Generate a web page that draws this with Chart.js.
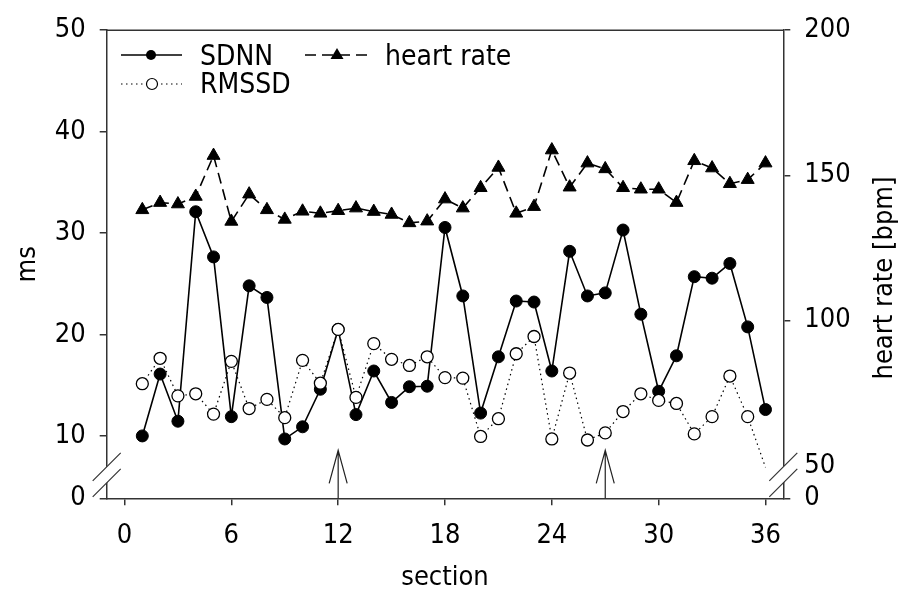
<!DOCTYPE html>
<html>
<head>
<meta charset="utf-8">
<script src="https://cdn.jsdelivr.net/npm/chart.js@4.4.1/dist/chart.umd.min.js"></script>
<style>
  html, body { margin: 0; padding: 0; background: #fff; }
</style>
</head>
<body>
<canvas id="chart" width="899" height="604"></canvas>
<script>
// values
const sections = [1, 2, 3, 4, 5, 6, 7, 8, 9, 10, 11, 12, 13, 14, 15, 16, 17, 18,
                  19, 20, 21, 22, 23, 24, 25, 26, 27, 28, 29, 30, 31, 32, 33, 34, 35, 36];
const sdnn = [10.0, 16.1, 11.45, 32.1, 27.65, 11.9, 24.8, 23.65, 9.7, 10.9, 14.6, 20.5,
              12.1, 16.4, 13.3, 14.85, 14.9, 30.55, 23.8, 12.25, 17.8, 23.3, 23.2, 16.4,
              28.2, 23.8, 24.1, 30.3, 22.0, 14.4, 17.9, 25.7, 25.55, 27.0, 20.75, 12.6];
const rmssd = [15.15, 17.65, 13.95, 14.15, 12.15, 17.35, 12.7, 13.6, 11.8, 17.45, 15.2, 20.5,
               13.8, 19.1, 17.55, 16.95, 17.8, 15.75, 15.7, 9.95, 11.7, 18.1, 19.8, 9.7,
               16.2, 9.6, 10.3, 12.4, 14.15, 13.5, 13.2, 10.2, 11.9, 15.9, 11.9, 6.9];
const heartRate = [138.1, 140.6, 140.1, 142.7, 156.8, 134.1, 143.5, 138.1, 134.8, 137.6, 136.9, 137.8,
                   138.7, 137.5, 136.5, 133.6, 134.2, 141.8, 138.7, 145.7, 152.7, 136.9, 139.2, 158.7,
                   145.9, 154.2, 152.2, 145.7, 145.2, 145.2, 140.6, 155.0, 152.5, 147.1, 148.5, 154.2];

const xTicks = [0, 6, 12, 18, 24, 30, 36];
const msTicks = [10, 20, 30, 40, 50];
const bpmTicks = [50, 100, 150, 200];
const arrowSections = [12, 27];

// broken axes: the bottom of each axis is labelled "0"
const msBreak = 3.85;
const bpmBreak = 38.7;

const FONT = "'DejaVu Sans Condensed', 'DejaVu Sans', sans-serif";
const font = { family: FONT, size: 27 };
const AXIS = '#333';

const toPoints = vals => vals.map((v, i) => ({ x: sections[i], y: v }));

const extras = {
  id: 'extras',
  afterDraw(chart) {
    const ctx = chart.ctx;
    const { left, right, top, bottom } = chart.chartArea;
    const xs = chart.scales.x;
    ctx.save();

    // top frame line
    ctx.strokeStyle = AXIS;
    ctx.lineWidth = 1.5;
    ctx.beginPath();
    ctx.moveTo(left, top);
    ctx.lineTo(right, top);
    ctx.stroke();

    // axis breaks
    [left, right].forEach(ax => {
      const y1 = bottom - 15.5, y2 = bottom - 31.5, h = 14;
      ctx.fillStyle = '#fff';
      ctx.beginPath();
      ctx.moveTo(ax - h, y1 + h);
      ctx.lineTo(ax + h, y1 - h);
      ctx.lineTo(ax + h, y2 - h);
      ctx.lineTo(ax - h, y2 + h);
      ctx.closePath();
      ctx.fill();
      ctx.strokeStyle = AXIS;
      ctx.lineWidth = 1.2;
      ctx.beginPath();
      ctx.moveTo(ax - h, y1 + h); ctx.lineTo(ax + h, y1 - h);
      ctx.moveTo(ax - h, y2 + h); ctx.lineTo(ax + h, y2 - h);
      ctx.stroke();
    });

    // arrows
    ctx.strokeStyle = '#222';
    ctx.lineWidth = 1.2;
    arrowSections.forEach(s => {
      const px = xs.getPixelForValue(s);
      const tip = bottom - 48;
      ctx.beginPath();
      ctx.moveTo(px, bottom); ctx.lineTo(px, tip);
      ctx.moveTo(px - 9, tip + 33); ctx.lineTo(px, tip); ctx.lineTo(px + 9, tip + 33);
      ctx.stroke();
    });

    // legend
    ctx.fillStyle = '#000';
    ctx.font = `28px ${FONT}`;
    ctx.textAlign = 'left';
    ctx.textBaseline = 'alphabetic';

    ctx.strokeStyle = '#000';
    ctx.lineWidth = 1.5;
    ctx.setLineDash([]);
    ctx.beginPath(); ctx.moveTo(121, 55); ctx.lineTo(182, 55); ctx.stroke();
    ctx.beginPath(); ctx.arc(151, 55, 5, 0, Math.PI * 2); ctx.fill();
    ctx.fillText('SDNN', 200, 65);

    ctx.lineWidth = 1.2;
    ctx.setLineDash([1.5, 3.5]);
    ctx.beginPath(); ctx.moveTo(121, 84); ctx.lineTo(182, 84); ctx.stroke();
    ctx.setLineDash([]);
    ctx.fillStyle = '#fff';
    ctx.beginPath(); ctx.arc(152, 84, 5.5, 0, Math.PI * 2); ctx.fill(); ctx.stroke();
    ctx.fillStyle = '#000';
    ctx.fillText('RMSSD', 200, 93);

    ctx.lineWidth = 1.5;
    ctx.setLineDash([11, 6]);
    ctx.beginPath(); ctx.moveTo(305, 55); ctx.lineTo(370, 55); ctx.stroke();
    ctx.setLineDash([]);
    ctx.beginPath();
    ctx.moveTo(337, 48); ctx.lineTo(343.5, 59); ctx.lineTo(330.5, 59); ctx.closePath();
    ctx.fill();
    ctx.fillText('heart rate', 385, 65);

    // right axis title, reading upward
    ctx.font = `27px ${FONT}`;
    ctx.save();
    ctx.translate(885, 278);
    ctx.rotate(-Math.PI / 2);
    ctx.textAlign = 'center';
    ctx.textBaseline = 'middle';
    ctx.fillText('heart rate [bpm]', 0, 0);
    ctx.restore();

    ctx.restore();
  }
};

new Chart(document.getElementById('chart'), {
  type: 'line',
  data: {
    datasets: [
      {
        label: 'SDNN',
        data: toPoints(sdnn),
        yAxisID: 'y',
        order: 2,
        borderColor: '#000',
        borderWidth: 1.6,
        pointStyle: 'circle',
        pointRadius: 6,
        pointBackgroundColor: '#000',
        pointBorderColor: '#000',
        pointBorderWidth: 1
      },
      {
        label: 'RMSSD',
        data: toPoints(rmssd),
        yAxisID: 'y',
        order: 1,
        borderColor: '#000',
        borderWidth: 1.2,
        borderDash: [1.5, 3.5],
        pointStyle: 'circle',
        pointRadius: rmssd.map((v, i) => (i === rmssd.length - 1 ? 0 : 6)),
        pointBackgroundColor: '#fff',
        pointBorderColor: '#000',
        pointBorderWidth: 1.3
      },
      {
        label: 'heart rate',
        data: toPoints(heartRate),
        yAxisID: 'y1',
        order: 0,
        borderColor: '#000',
        borderWidth: 1.6,
        borderDash: [11, 6],
        pointStyle: 'triangle',
        pointRadius: 7.5,
        pointBackgroundColor: '#000',
        pointBorderColor: '#000',
        pointBorderWidth: 1
      }
    ]
  },
  options: {
    responsive: false,
    animation: false,
    devicePixelRatio: 1,
    layout: { padding: { top: 23.5, left: 0, right: 0, bottom: 0 } },
    plugins: {
      legend: { display: false },
      tooltip: { enabled: false }
    },
    scales: {
      x: {
        type: 'linear',
        min: -1,
        max: 37,
        afterBuildTicks: s => { s.ticks = xTicks.map(v => ({ value: v })); },
        afterFit: s => { s.height = 105.7; },
        ticks: { font, color: '#000', padding: 14, maxRotation: 0, autoSkip: false },
        grid: { drawOnChartArea: false, tickLength: 7, color: AXIS, lineWidth: 1.5 },
        border: { color: AXIS, width: 1.5 },
        title: { display: true, text: 'section', font, color: '#000', padding: { top: 0, bottom: 10 } }
      },
      y: {
        position: 'left',
        min: msBreak,
        max: 50,
        afterBuildTicks: s => { s.ticks = [msBreak, ...msTicks].map(v => ({ value: v })); },
        afterFit: s => { s.width = 106.7; },
        ticks: { font, color: '#000', padding: 14, callback: v => (v === msBreak ? '0' : String(v)) },
        grid: { drawOnChartArea: false, tickLength: 7, color: AXIS, lineWidth: 1.5 },
        border: { color: AXIS, width: 1.5 },
        title: { display: true, text: 'ms', font, color: '#000', padding: { top: 12 } }
      },
      y1: {
        position: 'right',
        min: bpmBreak,
        max: 200,
        afterBuildTicks: s => { s.ticks = [bpmBreak, ...bpmTicks].map(v => ({ value: v })); },
        afterFit: s => { s.width = 115.7; },
        ticks: { font, color: '#000', padding: 14, callback: v => (v === bpmBreak ? '0' : String(v)) },
        grid: { drawOnChartArea: false, tickLength: 7, color: AXIS, lineWidth: 1.5 },
        border: { color: AXIS, width: 1.5 },
        title: { display: false }
      }
    }
  },
  plugins: [extras]
});
</script>
</body>
</html>
